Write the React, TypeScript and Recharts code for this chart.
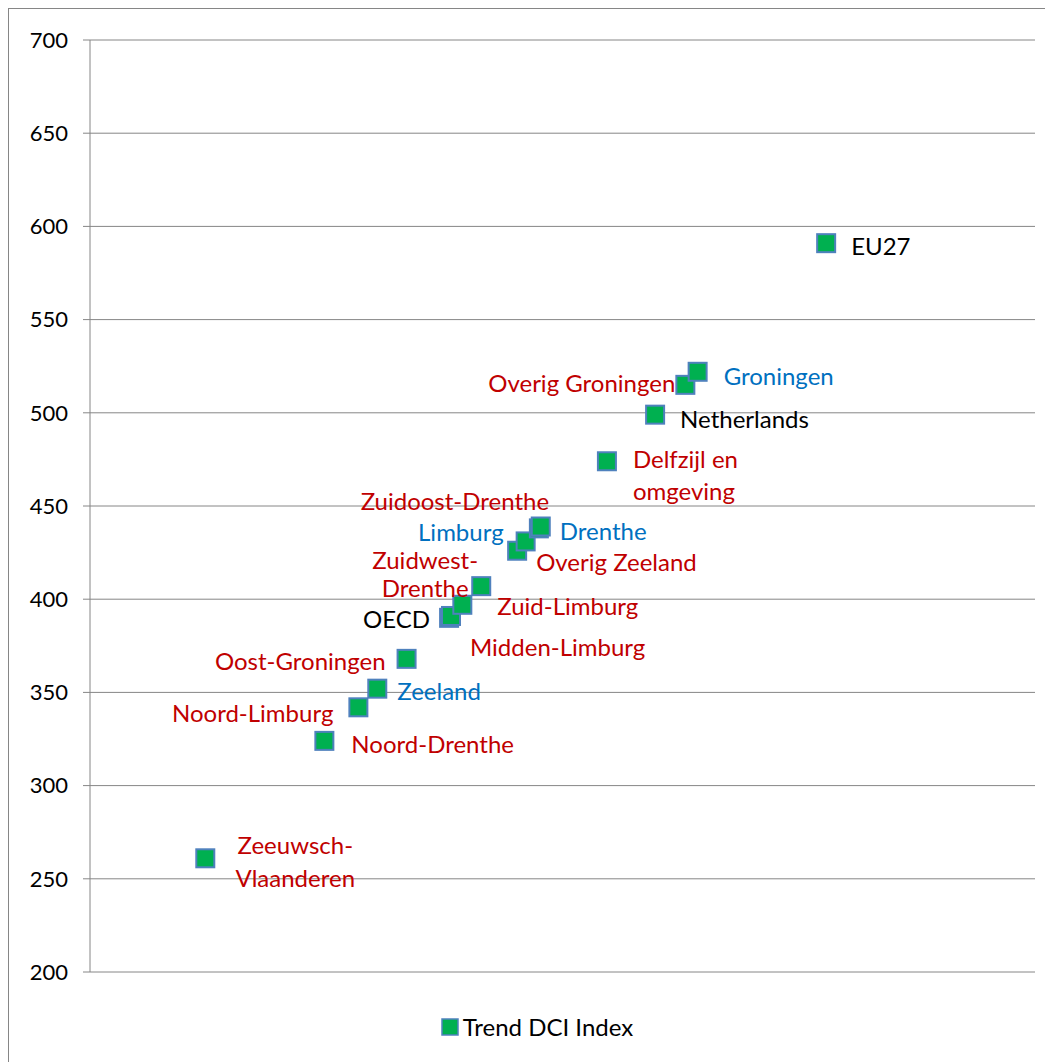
import React from 'react';
import { ScatterChart, Scatter, XAxis, YAxis, CartesianGrid, Legend, LabelList } from 'recharts';

const regions = [
  'Zeeuwsch-Vlaanderen', 'Noord-Drenthe', 'Noord-Limburg', 'Zeeland', 'Oost-Groningen',
  'OECD', 'Midden-Limburg', 'Zuid-Limburg', 'Zuidwest-Drenthe', 'Overig Zeeland',
  'Limburg', 'Zuidoost-Drenthe', 'Drenthe', 'Delfzijl en omgeving', 'Netherlands',
  'Overig Groningen', 'Groningen', 'EU27',
];
const xValues = [12.2, 24.8, 28.4, 30.4, 33.5, 38.0, 38.2, 39.4, 41.4, 45.2, 46.1, 47.5, 47.7, 54.7, 59.8, 63.0, 64.3, 77.9];
const dciValues = [261, 324, 342, 352, 368, 390, 391, 397, 407, 426, 431, 438, 439, 474, 499, 515, 522, 591];
const regionTypes = [
  'sub', 'sub', 'sub', 'prov', 'sub', 'ref', 'sub', 'sub', 'sub', 'sub',
  'prov', 'sub', 'prov', 'sub', 'ref', 'sub', 'prov', 'ref',
];
const yTicks = [200, 250, 300, 350, 400, 450, 500, 550, 600, 650, 700];
const seriesName = 'Trend DCI Index';

const typeColors: Record<string, string> = { sub: '#C00000', prov: '#0070C0', ref: '#000000' };

// label placement (style only): dx, dy from marker centre, anchor, wrap
const labelPlacement: Record<string, { dx: number; dy: number; anchor: string; wrap?: boolean; lh?: number }> = {
  'Zeeuwsch-Vlaanderen': { dx: 90, dy: -14, anchor: 'middle', wrap: true, lh: 33 },
  'Noord-Drenthe': { dx: 27, dy: 2, anchor: 'start' },
  'Noord-Limburg': { dx: -25, dy: 5, anchor: 'end' },
  'Zeeland': { dx: 20, dy: 1, anchor: 'start' },
  'Oost-Groningen': { dx: -21, dy: 1, anchor: 'end' },
  'OECD': { dx: -19, dy: 0, anchor: 'end' },
  'Midden-Limburg': { dx: 19, dy: 30, anchor: 'start' },
  'Zuid-Limburg': { dx: 35, dy: 0, anchor: 'start' },
  'Zuidwest-Drenthe': { dx: -56, dy: -27, anchor: 'middle', wrap: true, lh: 28 },
  'Overig Zeeland': { dx: 19, dy: 10, anchor: 'start' },
  'Limburg': { dx: -22, dy: -10, anchor: 'end' },
  'Zuidoost-Drenthe': { dx: -84, dy: -28, anchor: 'middle' },
  'Drenthe': { dx: 19, dy: 3, anchor: 'start' },
  'Delfzijl en omgeving': { dx: 26, dy: -3, anchor: 'start', wrap: true, lh: 32 },
  'Netherlands': { dx: 25, dy: 3, anchor: 'start' },
  'Overig Groningen': { dx: -10, dy: -3, anchor: 'end' },
  'Groningen': { dx: 26, dy: 3, anchor: 'start' },
  'EU27': { dx: 25, dy: 2, anchor: 'start' },
};

const data = regions.map((name, i) => ({ name, x: xValues[i], y: dciValues[i], type: regionTypes[i] }));

const FONT = 'Lato, "Open Sans", sans-serif';

const Square = (props: any) => {
  const { cx, cy } = props;
  if (cx == null || cy == null) return null;
  const s = 18;
  return <rect x={cx - s / 2} y={cy - s / 2} width={s} height={s} fill="#00B050" stroke="#4F81BD" strokeWidth={2} />;
};

const splitLabel = (name: string): string[] => {
  const h = name.indexOf('-');
  if (h >= 0) return [name.slice(0, h + 1), name.slice(h + 1)];
  const sp = name.lastIndexOf(' ');
  return [name.slice(0, sp), name.slice(sp + 1)];
};

const PointLabel = (props: any) => {
  const { x, y, width, height, index } = props;
  const d = data[index];
  if (!d) return null;
  const cx = x + (width || 0) / 2;
  const cy = y + (height || 0) / 2;
  const p = labelPlacement[d.name] || { dx: 20, dy: 0, anchor: 'start' };
  const lines = p.wrap ? splitLabel(d.name) : [d.name];
  const lh = p.lh || 32;
  return (
    <text
      x={cx + p.dx}
      y={cy + p.dy}
      textAnchor={p.anchor as any}
      dominantBaseline="central"
      fill={typeColors[d.type]}
      fontSize={24}
      fontFamily={FONT}
    >
      {lines.map((l, k) => (
        <tspan key={k} x={cx + p.dx} dy={k === 0 ? 0 : lh}>{l}</tspan>
      ))}
    </text>
  );
};

const LegendContent = () => (
  <div style={{ height: 80, display: 'flex', justifyContent: 'center', alignItems: 'flex-start' }}>
    <div style={{ marginTop: 40, display: 'flex', alignItems: 'center', fontFamily: FONT, fontSize: 24, color: '#000', marginLeft: 30 }}>
      <svg width={18} height={18} style={{ marginRight: 4 }}>
        <rect x={1} y={1} width={16} height={16} fill="#00B050" stroke="#4F81BD" strokeWidth={1.5} />
      </svg>
      <span>{seriesName}</span>
    </div>
  </div>
);

export default function App() {
  return (
    <div style={{ width: 1043, height: 1060, border: '1px solid #868686', background: '#fff', position: 'relative', marginTop: 0 }}>
      <ScatterChart width={1043} height={1060} margin={{ top: 31, right: 17, left: 0, bottom: 17 }}>
        <CartesianGrid horizontal vertical={false} stroke="#868686" strokeWidth={1} />
        <XAxis type="number" dataKey="x" domain={[0, 100]} hide />
        <YAxis
          type="number"
          dataKey="y"
          domain={[200, 700]}
          ticks={yTicks}
          width={81}
          axisLine={{ stroke: '#868686' }}
          tickLine={{ stroke: '#868686' }}
          tickSize={7}
          tickMargin={15}
          tick={{ fill: '#000', fontSize: 22, fontFamily: FONT }}
          interval={0}
        />
        <Legend verticalAlign="bottom" content={<LegendContent />} height={80} />
        <Scatter name={seriesName} data={data} shape={<Square />} isAnimationActive={false}>
          <LabelList dataKey="name" content={<PointLabel />} />
        </Scatter>
      </ScatterChart>
    </div>
  );
}
